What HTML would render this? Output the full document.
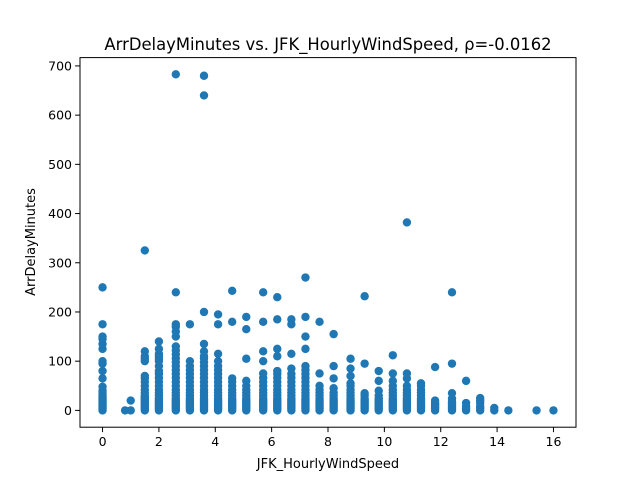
<!DOCTYPE html>
<html><head><meta charset="utf-8"><style>
body{margin:0;background:#fff;}
svg{display:block;font-family:"DejaVu Sans","Liberation Sans",sans-serif;}
</style></head><body>
<svg id="chart" width="640" height="480" viewBox="0 0 640 480">
<rect width="640" height="480" fill="#fff"/>
<text x="328" y="50" font-size="16.4" text-anchor="middle" fill="#000">ArrDelayMinutes vs. JFK_HourlyWindSpeed, ρ=-0.0162</text>
<g id="points"></g>
<rect x="80" y="57.6" width="496" height="369.6" fill="none" stroke="#000" stroke-width="1"/>
<g id="xticks"></g>
<g id="yticks"></g>
<text x="328" y="468" font-size="13" text-anchor="middle">JFK_HourlyWindSpeed</text>
<text x="0" y="0" font-size="13" text-anchor="middle" transform="translate(35,242) rotate(-90)">ArrDelayMinutes</text>
</svg>
<script>
const windSpeeds=[0,0.8,1.0,1.5,2.0,2.6,3.1,3.6,4.1,4.6,5.1,5.7,6.2,6.7,7.2,7.7,8.2,8.8,9.3,9.8,10.3,10.8,11.3,11.8,12.4,12.9,13.4,13.9,14.4,15.4,16.0];
const delays=[
[0,3,6,9,12,15,18,21,24,27,30,35,40,48,65,80,95,100,125,135,145,150,175,250],
[0],[0,20],
[0,3,6,9,12,15,18,21,24,27,30,36,42,50,58,65,70,100,105,110,120,325],
[0,3,6,9,12,15,18,21,24,30,36,42,50,58,66,74,80,90,100,105,110,115,125,140],
[0,3,6,9,12,15,18,21,24,30,36,42,50,58,66,74,82,90,98,106,114,122,130,150,160,170,175,240,683],
[0,3,6,9,12,15,18,21,24,30,36,42,50,58,66,74,82,90,100,175],
[0,3,6,9,12,15,18,21,24,30,36,42,50,58,66,74,82,90,98,106,110,120,135,200,640,680],
[0,3,6,9,12,15,18,21,24,30,36,42,50,58,66,74,82,90,100,115,175,195],
[0,3,6,9,12,15,18,21,24,30,36,42,50,58,65,180,243],
[0,3,6,9,12,15,18,21,24,30,36,42,50,60,105,165,190],
[0,3,6,9,12,15,18,21,24,30,36,42,50,58,66,75,100,120,180,240],
[0,3,6,9,12,15,18,21,24,30,36,42,50,58,66,74,80,110,125,185,230],
[0,3,6,9,12,15,18,21,24,30,36,42,50,58,66,74,85,115,175,185],
[0,3,6,9,12,15,18,21,24,30,36,42,50,58,66,74,82,90,125,150,190,270],
[0,3,6,9,12,15,18,21,24,30,36,42,50,75,180],
[0,3,6,9,12,15,18,21,24,30,36,45,65,90,155],
[0,3,6,9,12,15,18,21,24,30,36,42,50,55,70,85,105],
[0,3,6,9,12,15,18,21,24,30,35,95,232],
[0,3,6,9,12,15,18,21,24,30,40,60,80],
[0,3,6,9,12,15,18,21,24,30,36,42,50,60,75,112],
[0,3,6,9,12,15,18,21,24,30,36,42,50,65,75,382],
[0,3,6,9,12,15,18,21,24,30,36,42,50,55],
[0,3,6,9,12,15,20,88],
[0,3,6,9,12,15,18,24,35,95,240],
[0,4,8,15,60],
[0,4,8,15,20,25],
[0,5],[0],[0],[0]
];
const xTickLabels=[0,2,4,6,8,10,12,14,16];
const yTickLabels=[0,100,200,300,400,500,600,700];
const NS='http://www.w3.org/2000/svg';
const X0=80,X1=576,Y0=427.2,Y1=57.6,xmin=-0.8,xmax=16.8,ymin=-34.15,ymax=716.9;
function sx(v){return X0+(v-xmin)/(xmax-xmin)*(X1-X0);}
function sy(v){return Y0-(v-ymin)/(ymax-ymin)*(Y0-Y1);}
const pg=document.getElementById('points');
windSpeeds.forEach((w,i)=>{delays[i].forEach(d=>{
 const c=document.createElementNS(NS,'circle');
 c.setAttribute('cx',sx(w));c.setAttribute('cy',sy(d));c.setAttribute('r',4.2);c.setAttribute('fill','#1f77b4');
 
 
 pg.appendChild(c);});});
const xg=document.getElementById('xticks');
xTickLabels.forEach(t=>{
 const l=document.createElementNS(NS,'line');
 l.setAttribute('x1',sx(t));l.setAttribute('x2',sx(t));l.setAttribute('y1',Y0);l.setAttribute('y2',Y0+4.9);l.setAttribute('stroke','#000');
 
 
 xg.appendChild(l);
 const tx=document.createElementNS(NS,'text');
 tx.setAttribute('x',sx(t));tx.setAttribute('y',Y0+19);tx.setAttribute('font-size','12.5');tx.setAttribute('text-anchor','middle');tx.textContent=t;
 
 
 xg.appendChild(tx);});
const yg=document.getElementById('yticks');
yTickLabels.forEach(t=>{
 const l=document.createElementNS(NS,'line');
 l.setAttribute('x1',X0-4.9);l.setAttribute('x2',X0);l.setAttribute('y1',sy(t));l.setAttribute('y2',sy(t));l.setAttribute('stroke','#000');
 
 
 yg.appendChild(l);
 const tx=document.createElementNS(NS,'text');
 tx.setAttribute('x',X0-8);tx.setAttribute('y',sy(t)+4.5);tx.setAttribute('font-size','12.5');tx.setAttribute('text-anchor','end');tx.textContent=t;
 
 
 yg.appendChild(tx);});
</script>
</body></html>
